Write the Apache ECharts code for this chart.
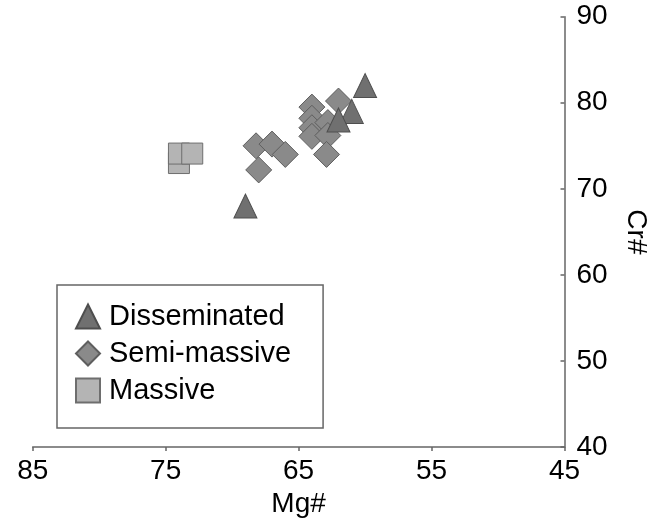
<!DOCTYPE html>
<html>
<head>
<meta charset="utf-8">
<style>html,body{margin:0;padding:0;background:#fff;}#c{width:666px;height:523px;}</style>
<script src="https://cdn.jsdelivr.net/npm/echarts@6/dist/echarts.min.js"></script>
</head>
<body>
<div id="c"></div>
<script>
// Data: [Mg#, Cr#]
const seriesNames = ['Disseminated', 'Semi-massive', 'Massive'];
const disseminated = [[60, 82], [61, 79], [62, 78], [69, 68]];
const semiMassive = [
  [68.2, 75], [67, 75.2], [66, 74], [68, 72.2],
  [64, 79.5], [64, 78.2], [64, 77.1], [64, 76.1],
  [62.8, 77.7], [62.8, 76.2], [62, 80.2], [62.9, 74]
];
const massive = [[74, 73], [74, 74.1], [73, 74.1]];
const xTicks = [45, 55, 65, 75, 85];
const yTicks = [40, 50, 60, 70, 80, 90];

const FONT = '"Liberation Sans", Arial, sans-serif';
const chart = echarts.init(document.getElementById('c'), null, {renderer: 'canvas'});
chart.setOption({
  animation: false,
  backgroundColor: '#ffffff',
  grid: {left: 32.7, right: 101.5, top: 16.7, bottom: 71.3, containLabel: false},
  xAxis: {
    type: 'value', inverse: true,
    min: xTicks[0], max: xTicks[xTicks.length - 1], interval: 10,
    name: 'Mg#', nameLocation: 'middle', nameGap: 41,
    nameTextStyle: {fontFamily: FONT, fontSize: 28, color: '#000'},
    axisLine: {show: true, onZero: false, lineStyle: {color: '#666', width: 1.5}},
    axisTick: {show: true, inside: false, length: 4, lineStyle: {color: '#666', width: 1.5}},
    axisLabel: {fontFamily: FONT, fontSize: 28, color: '#000', margin: 10},
    splitLine: {show: false}
  },
  yAxis: {
    type: 'value', position: 'right',
    min: yTicks[0], max: yTicks[yTicks.length - 1], interval: 10,
    name: 'Cr#', nameLocation: 'middle', nameGap: 57, nameRotate: -90,
    nameTextStyle: {fontFamily: FONT, fontSize: 28, color: '#000'},
    axisLine: {show: true, onZero: false, lineStyle: {color: '#666', width: 1.5}},
    axisTick: {show: true, inside: true, length: 4, lineStyle: {color: '#666', width: 1.5}},
    axisLabel: {fontFamily: FONT, fontSize: 28, color: '#000', margin: 12, padding: [0, 0, 7, 0]},
    splitLine: {show: false}
  },
  legend: {
    orient: 'vertical', left: 57, top: 285,
    data: seriesNames,
    itemWidth: 24, itemHeight: 24, itemGap: 8,
    padding: [17, 32, 23, 18],
    borderColor: '#666', borderWidth: 1.5, backgroundColor: '#fff',
    textStyle: {fontFamily: FONT, fontSize: 29, color: '#000', lineHeight: 28, padding: [0, 0, 0, 4]}
  },
  series: [
    {
      name: seriesNames[1], type: 'scatter', symbol: 'diamond', symbolSize: [26, 26], z: 2,
      itemStyle: {color: '#8a8a8a', borderColor: '#5e5e5e', borderWidth: 1, opacity: 1},
      data: semiMassive
    },
    {
      name: seriesNames[2], type: 'scatter', symbol: 'rect', symbolSize: [21, 21], z: 2,
      itemStyle: {color: '#b4b4b4', borderColor: '#6e6e6e', borderWidth: 1, opacity: 1},
      data: massive
    },
    {
      name: seriesNames[0], type: 'scatter', symbol: 'triangle', symbolSize: [23, 24], z: 3,
      itemStyle: {color: '#707070', borderColor: '#4e4e4e', borderWidth: 1, opacity: 1},
      data: disseminated
    }
  ]
});
</script>
</body>
</html>
